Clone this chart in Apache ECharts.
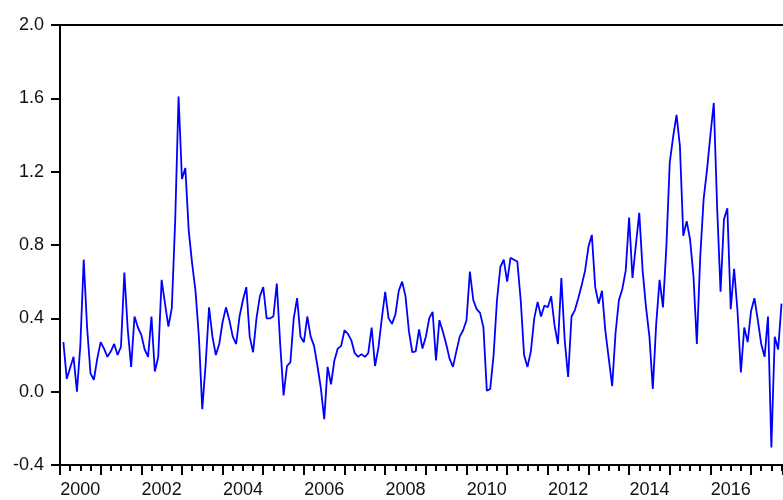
<!DOCTYPE html>
<html>
<head>
<meta charset="utf-8">
<script src="https://cdn.jsdelivr.net/npm/echarts@6/dist/echarts.min.js"></script>
<style>
    html, body { margin: 0; padding: 0; background: #fff; }
    #chart { width: 783px; height: 500px; }
</style>
</head>
<body>
<div id="chart"></div>
<script>
// monthly observations, first one is 2000M02
var startYear = 2000;
var startMonth = 2;

var values = [
    0.27, 0.07, 0.13, 0.19, 0.00, 0.25, 0.72, 0.35, 0.10, 0.065, 0.18, 0.27,
    0.235, 0.19, 0.22, 0.26, 0.20, 0.245, 0.65, 0.34, 0.135, 0.41, 0.35, 0.31,
    0.23, 0.19, 0.41, 0.11, 0.19, 0.61, 0.48, 0.355, 0.455, 0.93, 1.61, 1.16,
    1.22, 0.88, 0.70, 0.55, 0.30, -0.095, 0.15, 0.46, 0.30, 0.20, 0.26, 0.38,
    0.46, 0.39, 0.30, 0.26, 0.41, 0.50, 0.57, 0.30, 0.215, 0.40, 0.52, 0.57,
    0.40, 0.40, 0.41, 0.59, 0.26, -0.02, 0.14, 0.16, 0.40, 0.51, 0.30, 0.27,
    0.41, 0.30, 0.25, 0.14, 0.02, -0.15, 0.135, 0.04, 0.17, 0.235, 0.25, 0.335,
    0.315, 0.28, 0.21, 0.19, 0.205, 0.19, 0.21, 0.35, 0.14, 0.24, 0.40, 0.545,
    0.40, 0.37, 0.42, 0.55, 0.60, 0.52, 0.33, 0.215, 0.22, 0.34, 0.235, 0.30,
    0.40, 0.435, 0.17, 0.39, 0.33, 0.26, 0.18, 0.135, 0.22, 0.30, 0.335, 0.39,
    0.655, 0.50, 0.45, 0.43, 0.35, 0.005, 0.015, 0.20, 0.50, 0.68, 0.72, 0.60,
    0.73, 0.72, 0.71, 0.50, 0.20, 0.135, 0.22, 0.40, 0.49, 0.41, 0.47, 0.46,
    0.52, 0.36, 0.26, 0.62, 0.28, 0.08, 0.41, 0.445, 0.51, 0.58, 0.66, 0.79,
    0.855, 0.57, 0.48, 0.55, 0.33, 0.18, 0.03, 0.32, 0.50, 0.56, 0.66, 0.95,
    0.62, 0.80, 0.975, 0.66, 0.46, 0.30, 0.015, 0.37, 0.61, 0.46, 0.79, 1.25,
    1.39, 1.51, 1.34, 0.85, 0.93, 0.83, 0.63, 0.26, 0.735, 1.05, 1.21, 1.40,
    1.575, 1.00, 0.545, 0.94, 1.00, 0.45, 0.67, 0.44, 0.105, 0.35, 0.27, 0.44,
    0.51, 0.39, 0.26, 0.19, 0.41, -0.305, 0.30, 0.23, 0.48
];

// year labels sit in the middle of their year
var yearLabels = [2000, 2002, 2004, 2006, 2008, 2010, 2012, 2014, 2016];

var yMin = -0.4;
var yMax = 2.0;
var yStep = 0.4;

// the picture is cut at the right, the axis runs a bit past the last obs
var xMin = 2000;
var xMax = 2017.786;

var seriesData = [];
for (var i = 0; i < values.length; i++) {
    seriesData.push([startYear + (startMonth - 1 + i) / 12, values[i]]);
}

var labelPos = yearLabels.map(function (y) { return y + 0.5; });

var myChart = echarts.init(document.getElementById('chart'));

var axisFont = {
    color: '#111',
    fontFamily: 'Liberation Sans, Arial, sans-serif',
    fontSize: 18
};

var option = {
    animation: false,
    backgroundColor: '#fff',
    grid: {
        left: 60,
        right: 0,
        top: 25,
        bottom: 35
    },
    xAxis: [
        {
            type: 'value',
            min: xMin,
            max: xMax,
            interval: 1,
            axisLine: { onZero: false, lineStyle: { color: '#000', width: 2 } },
            axisTick: { length: 10, lineStyle: { color: '#000', width: 2 } },
            minorTick: { show: true, splitNumber: 4, length: 6, lineStyle: { color: '#000', width: 2 } },
            splitLine: { show: false },
            axisLabel: Object.assign({
                customValues: labelPos,
                margin: 16,
                formatter: function (v) { return String(Math.floor(v)); }
            }, axisFont)
        },
        {
            // just the top frame line
            type: 'value',
            position: 'top',
            min: xMin,
            max: xMax,
            axisLine: { show: true, onZero: false, lineStyle: { color: '#000', width: 2 } },
            axisTick: { show: false },
            axisLabel: { show: false },
            splitLine: { show: false }
        }
    ],
    yAxis: {
        type: 'value',
        min: yMin,
        max: yMax,
        interval: yStep,
        axisLine: { show: true, onZero: false, lineStyle: { color: '#000', width: 2 } },
        axisTick: { show: true, length: 9, lineStyle: { color: '#000', width: 2 } },
        splitLine: { show: false },
        axisLabel: Object.assign({
            margin: 16,
            formatter: function (v) {
                if (Math.abs(v) < 1e-9) return '0.0';
                return v.toFixed(1);
            }
        }, axisFont)
    },
    series: [
        {
            type: 'line',
            xAxisIndex: 0,
            data: seriesData,
            showSymbol: false,
            symbol: 'none',
            lineStyle: { color: '#0000ff', width: 1.8 }
        }
    ]
};

myChart.setOption(option);
</script>
</body>
</html>
